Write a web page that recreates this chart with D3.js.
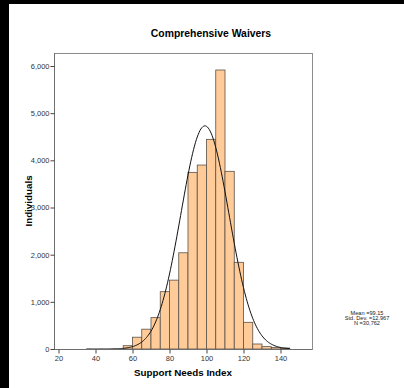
<!DOCTYPE html>
<html>
<head>
<meta charset="utf-8">
<script src="https://cdn.jsdelivr.net/npm/d3@7"></script>
<style>
  html, body { margin: 0; padding: 0; background: #fff; }
  svg { display: block; }
  text { font-family: "Liberation Sans", Arial, sans-serif; }
</style>
</head>
<body>
<svg id="chart" width="404" height="388"></svg>
<script>
// histogram bins (lower edge, width 5) and counts
const binStarts = [55, 60, 65, 70, 75, 80, 85, 90, 95, 100, 105, 110, 115, 120, 125, 130, 135, 140];
const binCounts = [70, 250, 420, 665, 1215, 1460, 2040, 3745, 3900, 4445, 5915, 3767, 1838, 566, 106, 50, 30, 20];
const binWidth = 5;

const xTicks = [20, 40, 60, 80, 100, 120, 140];
const yTicks = [0, 1000, 2000, 3000, 4000, 5000, 6000];

const statMean = 99.15;
const statSd = 12.967;
const statN = 30762;
const statLines = ['Mean =99.15', 'Std. Dev. =12.967', 'N =30,762'];

const svg = d3.select('#chart');

// black bands at the left and top edges of the screenshot
svg.append('rect').attr('x', 0).attr('y', 0).attr('width', 404).attr('height', 4).attr('fill', '#000');
svg.append('rect').attr('x', 0).attr('y', 0).attr('width', 9).attr('height', 388).attr('fill', '#000');

const plotLeft = 54, plotRight = 312, plotTop = 53, plotBottom = 349;

const x = d3.scaleLinear().domain([20, 140]).range([58.5, 280.5]);
const y = d3.scaleLinear().domain([0, 6000]).range([plotBottom, 66]);

// frame
svg.append('rect')
  .attr('x', plotLeft + 0.5).attr('y', plotTop + 0.5)
  .attr('width', plotRight - plotLeft).attr('height', plotBottom - plotTop)
  .attr('fill', '#fff')
  .attr('stroke', '#8c8c8c')
  .attr('stroke-width', 1);

// bars
svg.append('g')
  .selectAll('rect')
  .data(binStarts)
  .enter()
  .append('rect')
  .attr('x', d => x(d))
  .attr('width', d => x(d + binWidth) - x(d))
  .attr('y', (d, i) => y(binCounts[i]))
  .attr('height', (d, i) => plotBottom - y(binCounts[i]))
  .attr('fill', '#ffcc99')
  .attr('stroke', '#5a5148')
  .attr('stroke-width', 0.8);

// fitted normal curve
const peak = statN * binWidth / (statSd * Math.sqrt(2 * Math.PI));
const curvePts = d3.range(35, 145.01, 0.5).map(v => [v, peak * Math.exp(-0.5 * Math.pow((v - statMean) / statSd, 2))]);
svg.append('path')
  .datum(curvePts)
  .attr('d', d3.line().x(d => x(d[0])).y(d => y(d[1])).curve(d3.curveBasis))
  .attr('fill', 'none')
  .attr('stroke', '#111')
  .attr('stroke-width', 1);

// axes lines
svg.append('line')
  .attr('x1', plotLeft).attr('x2', plotRight).attr('y1', plotBottom + 0.5).attr('y2', plotBottom + 0.5)
  .attr('stroke', '#6e6e6e');
svg.append('line')
  .attr('x1', plotLeft + 0.5).attr('x2', plotLeft + 0.5).attr('y1', plotTop).attr('y2', plotBottom)
  .attr('stroke', '#6e6e6e');

// y axis
const yAxis = svg.append('g')
  .attr('transform', `translate(${plotLeft + 0.5},0)`)
  .call(d3.axisLeft(y).tickValues(yTicks).tickSize(4).tickPadding(1).tickFormat(d3.format(',')));
yAxis.select('.domain').remove();
yAxis.selectAll('line').attr('stroke', '#444');
yAxis.selectAll('text').attr('font-size', '7.5px').attr('fill', '#333').attr('font-family', '"Liberation Sans", Arial, sans-serif');

// x axis
const xAxis = svg.append('g')
  .attr('transform', `translate(0,${plotBottom + 0.5})`)
  .call(d3.axisBottom(x).tickValues(xTicks).tickSize(4).tickPadding(2).tickFormat(d3.format('d')));
xAxis.select('.domain').remove();
xAxis.selectAll('line').attr('stroke', '#444');
xAxis.selectAll('text').attr('font-size', '7.5px').attr('fill', '#333').attr('font-family', '"Liberation Sans", Arial, sans-serif');

// title and axis labels
svg.append('text')
  .attr('x', 211).attr('y', 37)
  .attr('text-anchor', 'middle')
  .attr('font-size', '10.4px').attr('font-weight', 'bold')
  .text('Comprehensive Waivers');

svg.append('text')
  .attr('x', 183).attr('y', 376)
  .attr('text-anchor', 'middle')
  .attr('font-size', '9.8px').attr('font-weight', 'bold')
  .text('Support Needs Index');

svg.append('text')
  .attr('transform', 'translate(32,201) rotate(-90)')
  .attr('text-anchor', 'middle')
  .attr('font-size', '9.8px').attr('font-weight', 'bold')
  .text('Individuals');

// stats box text
svg.append('g')
  .selectAll('text')
  .data(statLines)
  .enter()
  .append('text')
  .attr('x', 367)
  .attr('y', (d, i) => 314.5 + i * 5)
  .attr('text-anchor', 'middle')
  .attr('font-size', '5.6px')
  .attr('fill', '#222')
  .text(d => d);
</script>
</body>
</html>
